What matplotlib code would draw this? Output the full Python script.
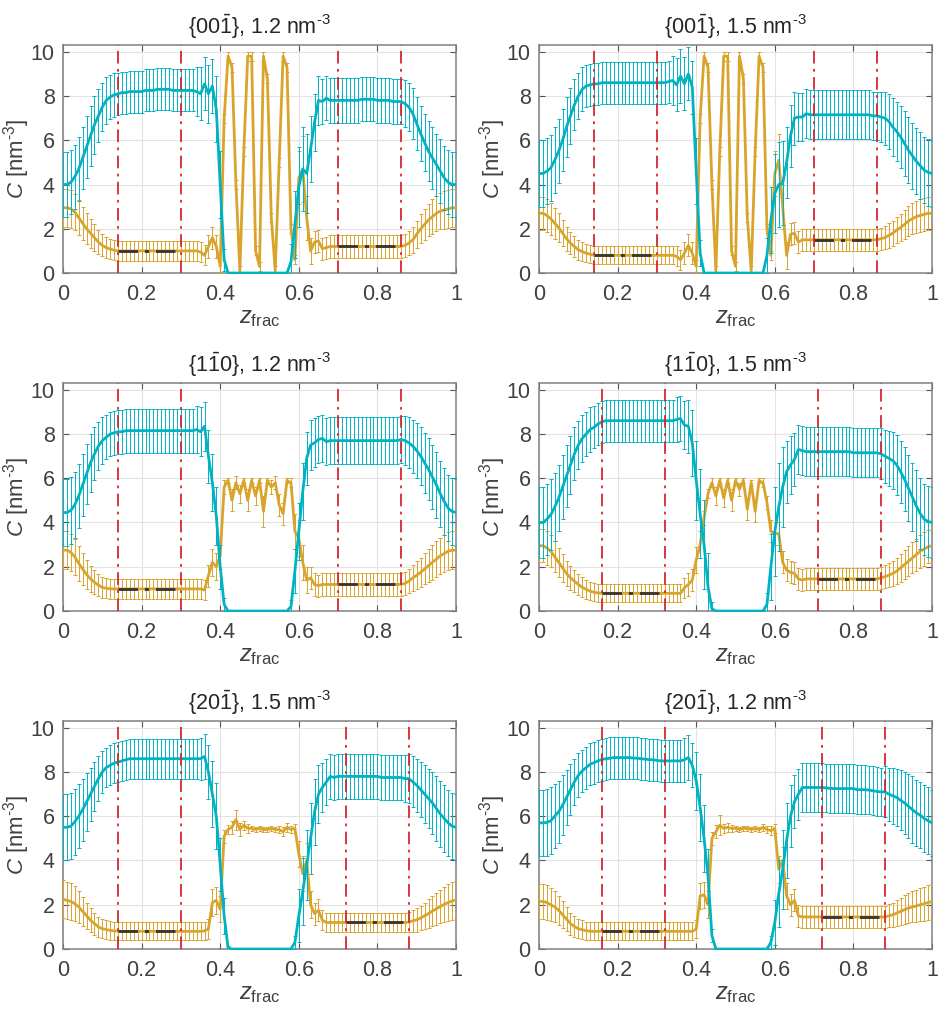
import numpy as np
import matplotlib
matplotlib.use('Agg')
import matplotlib.pyplot as plt

plt.rcParams['font.family'] = ['Liberation Sans', 'DejaVu Sans']
plt.rcParams['mathtext.fontset'] = 'custom'
plt.rcParams['mathtext.rm'] = 'Liberation Sans'
plt.rcParams['mathtext.it'] = 'Liberation Sans:italic'
plt.rcParams['mathtext.bf'] = 'Liberation Sans:bold'

# ---------------- data ----------------
z = np.round(np.arange(101) * 0.01, 2)

titles = [r"{00$\bar{\mathrm{1}}$}, 1.2 nm$^{\text{-3}}$", r"{00$\bar{\mathrm{1}}$}, 1.5 nm$^{\text{-3}}$",
          r"{1$\bar{\mathrm{1}}$0}, 1.2 nm$^{\text{-3}}$", r"{1$\bar{\mathrm{1}}$0}, 1.5 nm$^{\text{-3}}$",
          r"{20$\bar{\mathrm{1}}$}, 1.5 nm$^{\text{-3}}$", r"{20$\bar{\mathrm{1}}$}, 1.2 nm$^{\text{-3}}$"]

bounds = [[0.14, 0.30, 0.70, 0.86], [0.14, 0.30, 0.70, 0.86],
          [0.14, 0.30, 0.70, 0.86], [0.16, 0.32, 0.71, 0.87],
          [0.14, 0.30, 0.72, 0.88], [0.16, 0.32, 0.72, 0.88]]
means_left = [1.0, 0.8, 1.0, 0.8, 0.8, 0.8]
means_right = [1.2, 1.5, 1.2, 1.45, 1.2, 1.45]

# panel 1 {00-1} 1.2
c1 = [4.0, 4.0, 4.1, 4.35, 4.7, 5.2, 5.7, 6.2, 6.7, 7.1, 7.5, 7.8, 7.95, 8.05, 8.1, 8.15, 8.15,
      8.2, 8.2, 8.2, 8.2, 8.25, 8.25, 8.25, 8.3, 8.3, 8.3, 8.3, 8.25, 8.25, 8.25, 8.25, 8.25, 8.25,
      8.2, 8.1, 8.55, 8.1, 8.45, 7.4, 4.0, 0.6,
      0, 0, 0, 0, 0, 0, 0, 0, 0, 0, 0, 0, 0, 0, 0, 0,
      0.5, 2.2, 3.9, 4.7, 4.5, 5.6, 6.8, 7.8, 7.75, 7.9, 7.8, 7.8, 7.8, 7.8, 7.8, 7.8, 7.8, 7.8,
      7.85, 7.85, 7.85, 7.85, 7.8, 7.8, 7.8, 7.8, 7.75, 7.75, 7.75, 7.65, 7.5, 7.2, 6.75, 6.3,
      5.9, 5.5, 5.2, 4.9, 4.6, 4.3, 4.1, 4.0, 4.0]
ce1 = [1.45, 1.45, 1.45, 1.45, 1.45, 1.4, 1.4, 1.35, 1.3, 1.2, 1.1, 1.05, 1.0, 1.0,
       0.95, 0.95, 0.95, 0.95, 0.95, 0.95, 0.95, 0.95, 0.95, 0.95, 0.95, 0.95, 0.95, 0.95, 0.95,
       0.95, 0.95, 0.95, 0.95, 0.95,
       1.1, 1.2, 1.2, 1.3, 1.2, 1.5, 1.5, 0.5,
       0, 0, 0, 0, 0, 0, 0, 0, 0, 0, 0, 0, 0, 0, 0, 0,
       0.8, 1.5, 1.8, 1.9, 1.8, 1.5, 1.3, 1.1,
       1.0, 1.0, 1.0, 1.0, 1.0, 1.0, 1.0, 1.0, 1.0, 1.0, 1.0, 1.0, 1.0, 1.0, 1.0, 1.0, 1.0, 1.0,
       1.0, 1.0, 1.0,
       1.05, 1.1, 1.15, 1.2, 1.25, 1.3, 1.35, 1.4, 1.4, 1.45, 1.45, 1.45, 1.45, 1.45]
g1 = [2.95, 2.95, 2.9, 2.75, 2.5, 2.25, 2.0, 1.8, 1.6, 1.4, 1.25, 1.15, 1.08, 1.03,
      1.0, 1.0, 1.0, 1.0, 1.0, 1.0, 1.0, 1.0, 1.0, 1.0, 1.0, 1.0, 1.0, 1.0, 1.0, 1.0, 1.0, 1.0,
      1.0, 1.0, 1.0,
      0.95, 0.8, 1.2, 1.6, 1.2, 0.3, 7.0, 9.8, 9.3, 4.0, 0.1, 5.5, 9.8, 9.8, 1.0, 0.3, 9.8, 8.8,
      2.5, 0.1, 5.0, 9.8, 9.3, 2.0, 0.6, 4.3, 4.7, 2.5, 1.0, 1.4, 1.45, 1.1, 1.15,
      1.2, 1.2, 1.2, 1.2, 1.2, 1.2, 1.2, 1.2, 1.2, 1.2, 1.2, 1.2, 1.2, 1.2, 1.2, 1.2, 1.2, 1.2, 1.2,
      1.25, 1.35, 1.5, 1.75, 2.0, 2.2, 2.4, 2.55, 2.7, 2.8, 2.85, 2.9, 2.95, 2.95]
ge1 = [0.85, 0.85, 0.85, 0.82, 0.8, 0.75, 0.7, 0.65, 0.6, 0.55, 0.5, 0.48, 0.46, 0.45,
       0.45, 0.45, 0.45, 0.45, 0.45, 0.45, 0.45, 0.45, 0.45, 0.45, 0.45, 0.45, 0.45, 0.45, 0.45,
       0.45, 0.45, 0.45, 0.45, 0.45, 0.45,
       0.45, 0.45, 0.5, 0.5, 0.5, 0.3,
       0.2, 0.2, 0.2, 0.2, 0.2, 0.2, 0.2, 0.2, 0.2, 0.2, 0.2, 0.2, 0.2, 0.2, 0.2, 0.2, 0.2, 0.2, 0.2,
       1.2, 1.5, 1.0, 0.6, 0.5, 0.5, 0.5, 0.5,
       0.5, 0.5, 0.5, 0.5, 0.5, 0.5, 0.5, 0.5, 0.5, 0.5, 0.5, 0.5, 0.5, 0.5, 0.5, 0.5, 0.5, 0.5, 0.5,
       0.52, 0.55, 0.58, 0.62, 0.66, 0.7, 0.74, 0.78, 0.8, 0.82, 0.84, 0.85, 0.85, 0.85]

# panel 2 {00-1} 1.5
c2 = [4.5, 4.5, 4.6, 4.75, 5.1, 5.5, 6.0, 6.6, 7.1, 7.6, 8.0, 8.3, 8.45, 8.5, 8.55, 8.55,
      8.6, 8.6, 8.6, 8.6, 8.6, 8.6, 8.6, 8.6, 8.6, 8.6, 8.6, 8.6, 8.6, 8.6, 8.6, 8.6, 8.6,
      8.65, 8.7, 8.5, 8.9, 8.55, 9.0, 8.4, 4.6, 0.9,
      0, 0, 0, 0, 0, 0, 0, 0, 0, 0, 0, 0, 0, 0, 0, 0,
      0.8, 2.4, 3.6, 4.0, 4.05, 5.0, 6.2, 7.0, 7.05, 7.05, 7.2, 7.15,
      7.15, 7.15, 7.15, 7.15, 7.15, 7.15, 7.15, 7.15, 7.15, 7.15, 7.15, 7.15, 7.15, 7.15, 7.15,
      7.1, 7.1, 7.05, 7.0, 6.85, 6.6, 6.4, 6.15, 5.85, 5.55, 5.3, 5.05, 4.85, 4.65, 4.55, 4.5]
ce2 = [1.5, 1.5, 1.5, 1.5, 1.5, 1.45, 1.4, 1.35, 1.25, 1.15, 1.05, 1.0, 0.95, 0.95,
       0.95, 0.95, 0.95, 0.95, 0.95, 0.95, 0.95, 0.95, 0.95, 0.95, 0.95, 0.95, 0.95, 0.95, 0.95,
       0.95, 0.95, 0.95, 0.95, 0.95,
       1.1, 1.2, 1.2, 1.2, 1.2, 1.2, 1.5, 0.6,
       0, 0, 0, 0, 0, 0, 0, 0, 0, 0, 0, 0, 0, 0, 0, 0,
       0.8, 1.5, 1.8, 1.9, 1.9, 1.6, 1.4, 1.2,
       1.1, 1.1, 1.1, 1.1, 1.1, 1.1, 1.1, 1.1, 1.1, 1.1, 1.1, 1.1, 1.1, 1.1, 1.1, 1.1, 1.1, 1.1,
       1.1, 1.1, 1.1,
       1.15, 1.2, 1.25, 1.3, 1.35, 1.4, 1.45, 1.5, 1.5, 1.5, 1.5, 1.5, 1.5, 1.5]
g2 = [2.7, 2.7, 2.6, 2.45, 2.25, 2.05, 1.8, 1.55, 1.35, 1.2, 1.05, 0.97, 0.9, 0.85,
      0.8, 0.8, 0.8, 0.8, 0.8, 0.8, 0.8, 0.8, 0.8, 0.8, 0.8, 0.8, 0.8, 0.8, 0.8, 0.8, 0.8, 0.8,
      0.8, 0.8, 0.8,
      0.75, 0.6, 0.9, 1.25, 0.9, 0.3, 7.0, 9.8, 9.3, 4.0, 0.1, 5.5, 9.8, 9.8, 1.0, 0.3, 9.8, 8.8,
      2.5, 0.1, 5.5, 9.8, 9.3, 2.0, 0.8, 4.5, 5.1, 3.0, 0.8, 1.75, 1.8, 1.4, 1.5,
      1.5, 1.5, 1.5, 1.5, 1.5, 1.5, 1.5, 1.5, 1.5, 1.5, 1.5, 1.5, 1.5, 1.5, 1.5, 1.5, 1.5, 1.5, 1.5,
      1.55, 1.6, 1.7, 1.8, 1.95, 2.05, 2.2, 2.35, 2.45, 2.55, 2.6, 2.65, 2.7, 2.7]
ge2 = [0.75, 0.75, 0.75, 0.72, 0.7, 0.65, 0.6, 0.55, 0.5, 0.47, 0.45, 0.42, 0.4, 0.4,
       0.4, 0.4, 0.4, 0.4, 0.4, 0.4, 0.4, 0.4, 0.4, 0.4, 0.4, 0.4, 0.4, 0.4, 0.4, 0.4, 0.4, 0.4,
       0.4, 0.4, 0.4,
       0.45, 0.45, 0.5, 0.5, 0.5, 0.3,
       0.2, 0.2, 0.2, 0.2, 0.2, 0.2, 0.2, 0.2, 0.2, 0.2, 0.2, 0.2, 0.2, 0.2, 0.2, 0.2, 0.2, 0.2, 0.2,
       1.0, 1.2, 1.0, 0.6, 0.5, 0.5, 0.5, 0.5,
       0.5, 0.5, 0.5, 0.5, 0.5, 0.5, 0.5, 0.5, 0.5, 0.5, 0.5, 0.5, 0.5, 0.5, 0.5, 0.5, 0.5, 0.5, 0.5,
       0.5, 0.52, 0.55, 0.57, 0.6, 0.62, 0.65, 0.68, 0.7, 0.72, 0.75, 0.75, 0.75, 0.75]

# panel 3 {1-10} 1.2
c3 = [4.45, 4.45, 4.55, 4.8, 5.2, 5.7, 6.2, 6.7, 7.1, 7.45, 7.7, 7.85, 8.0, 8.05, 8.1, 8.1, 8.15,
      8.15, 8.15, 8.15, 8.15, 8.15, 8.15, 8.15, 8.15, 8.15, 8.15, 8.15, 8.15, 8.15, 8.15, 8.15,
      8.15, 8.15,
      8.2, 8.1, 8.35, 7.0, 5.8, 4.3, 2.0, 0.3,
      0, 0, 0, 0, 0, 0, 0, 0, 0, 0, 0, 0, 0, 0, 0, 0,
      0.2, 1.8, 3.6, 5.4, 6.9, 7.5, 7.6, 7.75, 7.8, 7.65, 7.7,
      7.7, 7.7, 7.7, 7.7, 7.7, 7.7, 7.7, 7.7, 7.7, 7.7, 7.7, 7.7, 7.7, 7.7, 7.7, 7.7, 7.7,
      7.75, 7.7, 7.6, 7.45, 7.25, 7.0, 6.7, 6.4, 6.05, 5.7, 5.3, 4.95, 4.65, 4.5, 4.45]
ce3 = [1.5, 1.5, 1.5, 1.5, 1.45, 1.4, 1.35, 1.3, 1.2, 1.1, 1.05, 1.0, 1.0, 1.0,
       1.0, 1.0, 1.0, 1.0, 1.0, 1.0, 1.0, 1.0, 1.0, 1.0, 1.0, 1.0, 1.0, 1.0, 1.0, 1.0, 1.0, 1.0,
       1.0, 1.0,
       1.05, 1.1, 1.1, 1.2, 1.3, 1.3, 1.0, 0.3,
       0, 0, 0, 0, 0, 0, 0, 0, 0, 0, 0, 0, 0, 0, 0, 0,
       0.3, 1.0, 1.3, 1.3, 1.2, 1.15, 1.1, 1.05,
       1.05, 1.05, 1.05, 1.05, 1.05, 1.05, 1.05, 1.05, 1.05, 1.05, 1.05, 1.05, 1.05, 1.05, 1.05,
       1.05, 1.05, 1.05, 1.05, 1.05, 1.05,
       1.1, 1.15, 1.2, 1.25, 1.3, 1.35, 1.4, 1.45, 1.5, 1.5, 1.5, 1.5, 1.5, 1.5]
g3 = [2.75, 2.75, 2.65, 2.45, 2.15, 1.9, 1.65, 1.45, 1.3, 1.17, 1.07, 1.03, 1.0, 1.0,
      1.0, 1.0, 1.0, 1.0, 1.0, 1.0, 1.0, 1.0, 1.0, 1.0, 1.0, 1.0, 1.0, 1.0, 1.0, 1.0, 1.0, 1.0,
      1.0, 1.0, 1.0, 1.0,
      0.95, 1.6, 2.2, 2.0, 2.5, 5.6, 5.9, 5.0, 5.8, 5.3, 5.9, 5.0, 5.9, 5.2, 5.9, 4.5, 5.9, 5.6,
      5.8, 4.8, 4.4, 5.9, 5.8, 3.6, 3.3, 2.2, 1.4, 1.5, 1.2, 1.15,
      1.2, 1.2, 1.2, 1.2, 1.2, 1.2, 1.2, 1.2, 1.2, 1.2, 1.2, 1.2, 1.2, 1.2, 1.2, 1.2, 1.2, 1.2,
      1.2, 1.2, 1.2,
      1.25, 1.35, 1.5, 1.62, 1.75, 1.9, 2.05, 2.2, 2.35, 2.5, 2.6, 2.7, 2.75, 2.75]
ge3 = [0.85, 0.85, 0.85, 0.82, 0.78, 0.72, 0.66, 0.6, 0.55, 0.5, 0.47, 0.45, 0.45, 0.45,
       0.45, 0.45, 0.45, 0.45, 0.45, 0.45, 0.45, 0.45, 0.45, 0.45, 0.45, 0.45, 0.45, 0.45, 0.45,
       0.45, 0.45, 0.45, 0.45, 0.45, 0.45, 0.45,
       0.45, 0.5, 0.6, 0.6, 0.6,
       0.3, 0.1, 0.5, 0.3, 0.4, 0.1, 0.5, 0.1, 0.4, 0.1, 0.7, 0.1, 0.3, 0.3, 0.5, 0.5, 0.1, 0.2,
       0.8, 0.8, 0.8, 0.6, 0.5, 0.5, 0.5,
       0.5, 0.5, 0.5, 0.5, 0.5, 0.5, 0.5, 0.5, 0.5, 0.5, 0.5, 0.5, 0.5, 0.5, 0.5, 0.5, 0.5, 0.5,
       0.5, 0.5, 0.5,
       0.52, 0.55, 0.58, 0.62, 0.66, 0.7, 0.74, 0.78, 0.8, 0.82, 0.84, 0.85, 0.85, 0.85]

# panel 4 {1-10} 1.5
c4 = [4.0, 4.0, 4.15, 4.35, 4.7, 5.1, 5.6, 6.1, 6.6, 7.1, 7.5, 7.8, 8.0, 8.2, 8.3, 8.45, 8.55, 8.6,
      8.6, 8.6, 8.6, 8.6, 8.6, 8.6, 8.6, 8.6, 8.6, 8.6, 8.6, 8.6, 8.6, 8.6, 8.6, 8.6, 8.6,
      8.65, 8.7, 8.4, 8.35, 7.6, 5.9, 4.4, 3.0, 1.1, 0.1,
      0, 0, 0, 0, 0, 0, 0, 0, 0, 0, 0, 0, 0,
      0.3, 2.0, 3.6, 4.7, 5.6, 6.3, 6.6, 6.85, 7.3, 7.25, 7.2,
      7.2, 7.2, 7.2, 7.2, 7.2, 7.2, 7.2, 7.2, 7.2, 7.2, 7.2,
      7.15, 7.15, 7.15, 7.15, 7.15, 7.15, 7.15,
      7.1, 7.0, 6.9, 6.8, 6.6, 6.3, 5.95, 5.55, 5.15, 4.75, 4.4, 4.15, 4.05, 4.0]
ce4 = [1.6, 1.6, 1.6, 1.6, 1.55, 1.5, 1.45, 1.4, 1.3, 1.2, 1.1, 1.05, 1.0, 1.0,
       0.95, 0.95, 0.95, 0.95, 0.95, 0.95, 0.95, 0.95, 0.95, 0.95, 0.95, 0.95, 0.95, 0.95, 0.95,
       0.95, 0.95, 0.95, 0.95, 0.95, 0.95,
       1.0, 1.0, 1.1, 1.2, 1.5, 1.8, 2.0, 2.0, 1.5, 0.3,
       0, 0, 0, 0, 0, 0, 0, 0, 0, 0, 0, 0, 0,
       0.5, 1.5, 2.0, 2.0, 1.8, 1.4, 1.3, 1.2,
       1.1, 1.1, 1.1, 1.1, 1.1, 1.1, 1.1, 1.1, 1.1, 1.1, 1.1, 1.1, 1.1, 1.1, 1.1, 1.1, 1.1, 1.1,
       1.1, 1.1, 1.1,
       1.15, 1.2, 1.25, 1.3, 1.35, 1.4, 1.45, 1.5, 1.55, 1.6, 1.6, 1.6, 1.6, 1.6]
g4 = [2.95, 2.95, 2.85, 2.7, 2.45, 2.2, 1.95, 1.7, 1.5, 1.35, 1.2, 1.07, 0.98, 0.9, 0.85, 0.82,
      0.8, 0.8, 0.8, 0.8, 0.8, 0.8, 0.8, 0.8, 0.8, 0.8, 0.8, 0.8, 0.8, 0.8, 0.8, 0.8, 0.8, 0.8,
      0.8, 0.8,
      0.8, 1.05, 1.2, 1.4, 2.3, 3.0, 4.2, 5.3, 5.8, 5.2, 5.9, 5.1, 5.9, 5.0, 5.9, 5.5, 5.9, 4.6,
      5.8, 4.5, 5.9, 5.8, 4.9, 3.6, 3.5, 3.5, 2.2, 1.85, 1.75, 1.7, 1.45, 1.4,
      1.45, 1.45, 1.45, 1.45, 1.45, 1.45, 1.45, 1.45, 1.45, 1.45, 1.45, 1.45, 1.45, 1.45, 1.45,
      1.45, 1.45, 1.45, 1.45,
      1.5, 1.55, 1.62, 1.7, 1.8, 1.95, 2.1, 2.25, 2.4, 2.55, 2.7, 2.8, 2.9, 2.95]
ge4 = [0.75, 0.75, 0.75, 0.72, 0.7, 0.66, 0.62, 0.58, 0.54, 0.5, 0.47, 0.45, 0.43, 0.42, 0.41,
       0.4,
       0.4, 0.4, 0.4, 0.4, 0.4, 0.4, 0.4, 0.4, 0.4, 0.4, 0.4, 0.4, 0.4, 0.4, 0.4, 0.4, 0.4, 0.4,
       0.4, 0.4,
       0.4, 0.45, 0.5, 0.5, 0.6, 0.6,
       0.3, 0.2, 0.2, 0.4, 0.1, 0.4, 0.1, 0.5, 0.1, 0.3, 0.1, 0.5, 0.1, 0.5, 0.1, 0.2, 0.3,
       0.5, 0.5, 0.5, 0.5, 0.5, 0.5, 0.5, 0.5, 0.5,
       0.5, 0.5, 0.5, 0.5, 0.5, 0.5, 0.5, 0.5, 0.5, 0.5, 0.5, 0.5, 0.5, 0.5, 0.5, 0.5, 0.5, 0.5,
       0.5,
       0.5, 0.52, 0.55, 0.57, 0.6, 0.62, 0.65, 0.68, 0.7, 0.72, 0.75, 0.75, 0.75, 0.75]

# panel 5 {20-1} 1.5
c5 = [5.5, 5.5, 5.55, 5.75, 6.0, 6.3, 6.65, 7.0, 7.35, 7.7, 8.0, 8.2, 8.3, 8.4, 8.45, 8.5, 8.55,
      8.6, 8.6, 8.6, 8.6, 8.6, 8.6, 8.6, 8.6, 8.6, 8.6, 8.6, 8.6, 8.6, 8.6, 8.6, 8.6, 8.6, 8.6,
      8.6, 8.7, 8.0, 7.0, 6.0, 3.8, 1.5, 0.05,
      0, 0, 0, 0, 0, 0, 0, 0, 0, 0, 0, 0, 0, 0, 0, 0,
      0.3, 1.5, 2.6, 3.8, 5.0, 6.2, 7.0, 7.3, 7.55, 7.8, 7.75,
      7.8, 7.8, 7.8, 7.8, 7.8, 7.8, 7.8, 7.8, 7.8, 7.8, 7.8,
      7.75, 7.75, 7.75, 7.75, 7.75, 7.75,
      7.7, 7.7, 7.55, 7.4, 7.2, 7.0, 6.8, 6.6, 6.35, 6.1, 5.9, 5.7, 5.55, 5.5]
ce5 = [1.5, 1.5, 1.5, 1.5, 1.45, 1.4, 1.3, 1.2, 1.1, 1.0, 0.95, 0.9, 0.9, 0.9,
       0.9, 0.9, 0.9, 0.9, 0.9, 0.9, 0.9, 0.9, 0.9, 0.9, 0.9, 0.9, 0.9, 0.9, 0.9, 0.9, 0.9, 0.9,
       0.9, 0.9, 0.9,
       0.95, 1.0, 1.2, 1.5, 1.5, 1.2, 0.8, 0.1,
       0, 0, 0, 0, 0, 0, 0, 0, 0, 0, 0, 0, 0, 0, 0, 0,
       0.3, 1.2, 1.5, 1.6, 1.6, 1.5, 1.3,
       1.1, 1.05, 1.0, 1.0,
       1.0, 1.0, 1.0, 1.0, 1.0, 1.0, 1.0, 1.0, 1.0, 1.0, 1.0, 1.0, 1.0, 1.0, 1.0, 1.0, 1.0,
       1.05, 1.1, 1.15, 1.2, 1.25, 1.3, 1.35, 1.4, 1.45, 1.5, 1.5, 1.5, 1.5, 1.5]
g5 = [2.25, 2.2, 2.15, 2.05, 1.9, 1.7, 1.5, 1.3, 1.15, 1.0, 0.92, 0.88, 0.84, 0.82,
      0.8, 0.8, 0.8, 0.8, 0.8, 0.8, 0.8, 0.8, 0.8, 0.8, 0.8, 0.8, 0.8, 0.8, 0.8, 0.8, 0.8, 0.8,
      0.8, 0.8, 0.8, 0.8,
      0.82, 0.9, 2.1, 2.2, 1.8, 5.1, 5.4, 5.5, 5.85, 5.4, 5.6, 5.45, 5.45, 5.4, 5.45, 5.4, 5.4,
      5.45, 5.4, 5.4, 5.3, 5.5, 5.4, 5.45, 4.3, 3.4, 4.0, 2.0, 1.6, 1.75, 1.3, 1.2,
      1.2, 1.2, 1.2, 1.2, 1.2, 1.2, 1.2, 1.2, 1.2, 1.2, 1.2, 1.2, 1.2, 1.2, 1.2, 1.2, 1.2, 1.2,
      1.2, 1.2,
      1.22, 1.27, 1.32, 1.4, 1.5, 1.6, 1.72, 1.82, 1.92, 2.02, 2.1, 2.17, 2.22]
ge5 = [0.85, 0.85, 0.82, 0.78, 0.72, 0.66, 0.6, 0.54, 0.5, 0.46, 0.43, 0.42, 0.41, 0.4,
       0.4, 0.4, 0.4, 0.4, 0.4, 0.4, 0.4, 0.4, 0.4, 0.4, 0.4, 0.4, 0.4, 0.4, 0.4, 0.4, 0.4, 0.4,
       0.4, 0.4, 0.4, 0.4,
       0.4, 0.45, 0.6, 0.6, 0.6,
       0.3, 0.2, 0.3, 0.45, 0.3, 0.2, 0.2, 0.1, 0.1, 0.1, 0.1, 0.1, 0.1, 0.1, 0.15, 0.2, 0.2,
       0.15, 0.2,
       0.6, 0.8, 0.8, 0.6, 0.5, 0.5, 0.45, 0.45,
       0.45, 0.45, 0.45, 0.45, 0.45, 0.45, 0.45, 0.45, 0.45, 0.45, 0.45, 0.45, 0.45, 0.45, 0.45,
       0.45, 0.45, 0.45, 0.45, 0.45,
       0.47, 0.5, 0.53, 0.56, 0.6, 0.64, 0.68, 0.72, 0.76, 0.8, 0.83, 0.85, 0.85]

# panel 6 {20-1} 1.2
c6 = [5.7, 5.7, 5.72, 5.8, 6.0, 6.2, 6.5, 6.85, 7.2, 7.55, 7.85, 8.05, 8.2, 8.35, 8.42, 8.5,
      8.56, 8.6, 8.62, 8.65, 8.65, 8.65, 8.65, 8.65, 8.63, 8.62, 8.6, 8.58, 8.56, 8.55, 8.52,
      8.5, 8.5, 8.5, 8.5, 8.5, 8.5, 8.55, 8.65, 8.3, 7.6, 6.4, 5.0, 3.3, 0.6,
      0, 0, 0, 0, 0, 0, 0, 0, 0, 0, 0, 0, 0, 0,
      0.3, 1.2, 2.5, 3.6, 4.9, 6.0, 6.65, 7.0, 7.3, 7.3, 7.3, 7.3, 7.3, 7.3, 7.28, 7.26, 7.25,
      7.25, 7.25, 7.25, 7.25, 7.25, 7.2, 7.2, 7.2, 7.18, 7.15, 7.12, 7.1, 7.1, 7.0, 6.92, 6.85,
      6.72, 6.6, 6.45, 6.3, 6.15, 6.05, 5.9, 5.8, 5.7]
ce6 = [1.5, 1.5, 1.5, 1.5, 1.45, 1.4, 1.35, 1.25, 1.15, 1.05, 1.0, 0.95, 0.95, 0.95,
       0.95, 0.95, 0.95, 0.95, 0.95, 0.95, 0.95, 0.95, 0.95, 0.95, 0.95, 0.95, 0.95, 0.95, 0.95,
       0.95, 0.95, 0.95, 0.95, 0.95, 0.95, 0.95, 0.95,
       1.0, 1.0, 1.0, 1.3, 1.5, 1.5, 1.2, 0.3,
       0, 0, 0, 0, 0, 0, 0, 0, 0, 0, 0, 0, 0, 0,
       0.3, 1.0, 1.5, 1.8, 1.7, 1.4, 1.2, 1.15,
       1.1, 1.1, 1.1, 1.1, 1.1, 1.1, 1.1, 1.1, 1.1, 1.1, 1.1, 1.1, 1.1, 1.1, 1.1, 1.1, 1.1, 1.1,
       1.1, 1.1,
       1.1, 1.15, 1.2, 1.25, 1.3, 1.35, 1.4, 1.45, 1.5, 1.5, 1.5, 1.5, 1.5, 1.5]
g6 = [2.15, 2.15, 2.1, 2.0, 1.9, 1.75, 1.55, 1.35, 1.15, 1.02, 0.92, 0.87, 0.83, 0.8,
      0.8, 0.8, 0.8, 0.8, 0.8, 0.8, 0.8, 0.8, 0.8, 0.8, 0.8, 0.8, 0.8, 0.8, 0.8, 0.8, 0.8, 0.8,
      0.8, 0.8, 0.8, 0.8, 0.8, 0.8, 0.8, 0.8,
      0.9, 2.4, 2.45, 2.0, 5.0, 5.3, 5.6, 5.45, 5.5, 5.45, 5.45, 5.4, 5.45, 5.45, 5.4, 5.45, 5.4,
      5.5, 5.4, 5.35, 5.45, 3.6, 4.0, 2.4, 2.0, 2.2, 1.5, 1.45,
      1.45, 1.45, 1.45, 1.45, 1.45, 1.45, 1.45, 1.45, 1.45, 1.45, 1.45, 1.45, 1.45, 1.45, 1.45,
      1.45, 1.45, 1.45, 1.45, 1.45, 1.45,
      1.5, 1.55, 1.62, 1.7, 1.78, 1.85, 1.9, 1.95, 2.0, 2.05, 2.1, 2.15]
ge6 = [0.8, 0.8, 0.78, 0.75, 0.7, 0.65, 0.6, 0.55, 0.5, 0.46, 0.43, 0.42, 0.41, 0.4,
       0.4, 0.4, 0.4, 0.4, 0.4, 0.4, 0.4, 0.4, 0.4, 0.4, 0.4, 0.4, 0.4, 0.4, 0.4, 0.4, 0.4, 0.4,
       0.4, 0.4, 0.4, 0.4, 0.4, 0.4, 0.4, 0.4,
       0.4, 0.6, 0.6, 0.6,
       0.3, 0.3, 0.45, 0.2, 0.2, 0.15, 0.1, 0.1, 0.1, 0.1, 0.1, 0.1, 0.1, 0.15, 0.15, 0.2, 0.2,
       0.6, 0.6, 0.6, 0.5, 0.5, 0.5, 0.5,
       0.5, 0.5, 0.5, 0.5, 0.5, 0.5, 0.5, 0.5, 0.5, 0.5, 0.5, 0.5, 0.5, 0.5, 0.5, 0.5, 0.5, 0.5,
       0.5, 0.5, 0.5,
       0.52, 0.55, 0.58, 0.61, 0.64, 0.67, 0.7, 0.72, 0.75, 0.77, 0.79, 0.8]

cyan_vals = [c1, c2, c3, c4, c5, c6]
cyan_errs = [ce1, ce2, ce3, ce4, ce5, ce6]
gold_vals = [g1, g2, g3, g4, g5, g6]
gold_errs = [ge1, ge2, ge3, ge4, ge5, ge6]

for arrs in (cyan_vals, cyan_errs, gold_vals, gold_errs):
    for a in arrs:
        assert len(a) == len(z), len(a)

# ---------------- style ----------------
CYAN = '#00B2C2'
GOLD = '#D9A42B'
RED = '#D7262E'
DARK = '#333333'
TXT = '#404040'
FRAME = '#808080'

fig = plt.figure(figsize=(9.42, 10.15), dpi=100)
lefts = [0.0669, 0.5722]
bottoms = [0.7310, 0.3980, 0.0650]
W, H = 0.4172, 0.2246

for i in range(6):
    r, c = divmod(i, 2)
    ax = fig.add_axes([lefts[c], bottoms[r], W, H])
    ax.errorbar(z, gold_vals[i], yerr=gold_errs[i], color=GOLD, lw=2.0,
                elinewidth=0.7, capsize=1.2, capthick=0.7, zorder=3)
    ax.errorbar(z, cyan_vals[i], yerr=cyan_errs[i], color=CYAN, lw=2.0,
                elinewidth=0.7, capsize=1.2, capthick=0.7, zorder=4)
    b = bounds[i]
    ax.plot([b[0], b[1]], [means_left[i]] * 2, color=DARK, lw=2.0,
            linestyle=(0, (7, 2.5, 1.5, 2.5)), zorder=5)
    ax.plot([b[2], b[3]], [means_right[i]] * 2, color=DARK, lw=2.0,
            linestyle=(0, (7, 2.5, 1.5, 2.5)), zorder=5)
    for xv in b:
        ax.axvline(xv, color=RED, lw=1.3, linestyle=(0, (7, 3, 1.5, 3)), zorder=6)

    ax.set_xlim(0, 1)
    ax.set_ylim(0, 10.3)
    ax.set_xticks([0, 0.2, 0.4, 0.6, 0.8, 1])
    ax.set_xticklabels(['0', '0.2', '0.4', '0.6', '0.8', '1'])
    ax.set_yticks([0, 2, 4, 6, 8, 10])
    ax.grid(True, color='#e3e3e3', lw=0.8, zorder=0)
    ax.set_axisbelow(True)
    for s in ax.spines.values():
        s.set_color(FRAME)
        s.set_linewidth(1.1)
    ax.tick_params(direction='in', length=4, width=0.8, color='#555555',
                   labelsize=15.5, labelcolor=TXT, top=True, right=True)
    ax.tick_params(axis='x', pad=8)
    ax.tick_params(axis='y', pad=6)
    ax.set_title(titles[i], fontsize=15.5, color='#262626', pad=8)
    ax.set_ylabel(r'$C$ [nm$^{\text{-3}}$]', fontsize=16, color=TXT, labelpad=-1)
    ax.set_xlabel(r'$z_{\mathrm{frac}}$', fontsize=17, color=TXT, labelpad=1)

fig.savefig('out.png', dpi=100)
